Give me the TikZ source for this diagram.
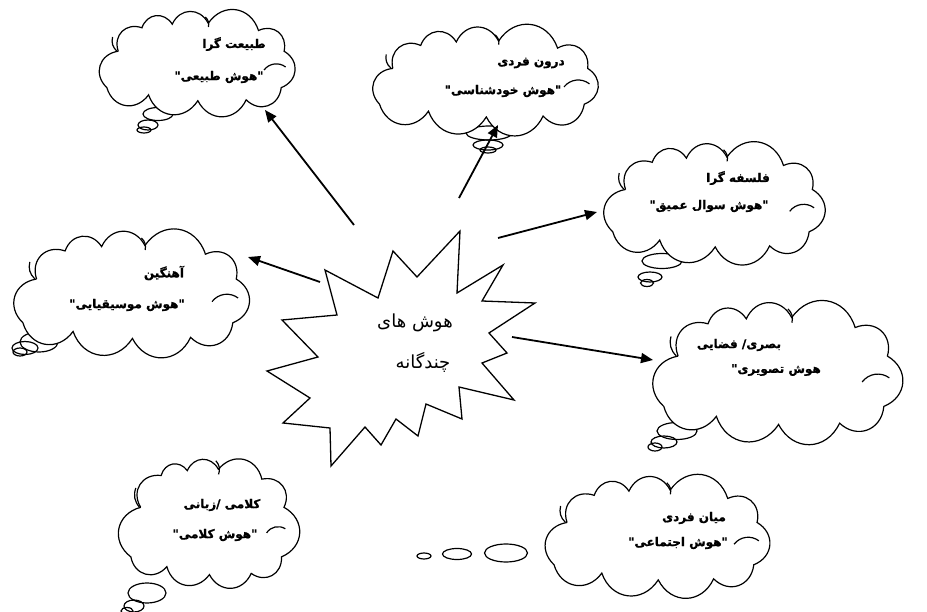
\documentclass[tikz,border=0pt]{standalone}
\usepackage{fontspec}
\TeXXeTstate=1
\newfontfamily\fa[Script=Arabic]{DejaVu Sans}
\newfontfamily\fab[Script=Arabic,FakeBold=1.2]{DejaVu Sans}
\usetikzlibrary{arrows.meta}
\tikzset{
  cloudline/.style={line width=1.2pt, draw=black, fill=white},
  bump/.style={bend left=64, looseness=1.3},
  bubble/.style={line width=1.2pt, draw=black},
  innerarc/.style={line width=1.2pt, draw=black},
  arrowline/.style={line width=1.8pt, -{Triangle[length=12pt,width=10pt]}},
  starline/.style={line width=1.3pt, draw=black, fill=white, line join=miter},
  ctext/.style={font=\fab\bfseries\fontsize{12}{14}\selectfont, inner sep=0},
  mtext/.style={font=\fa\fontsize{18}{20}\selectfont, inner sep=0},
}
\newcommand{\wcloud}[4]{%
  \begin{scope}[shift={(#1,-#2)}]
    \pgfmathsetmacro\RX{#3*0.92}\pgfmathsetmacro\RY{#4*0.90}
    \pgfmathsetmacro\Rx{#3}\pgfmathsetmacro\Ry{#4}
    \path[cloudline] ({-0.81*\RX},{0.24*\RY})
      to[bump] ({-0.56*\RX},{0.76*\RY})
      to[bump] ({-0.24*\RX},{0.84*\RY})
      to[bump] ({0.14*\RX},{0.86*\RY})
      to[bump] ({0.67*\RX},{0.70*\RY})
      to[bump] ({0.94*\RX},{0.24*\RY})
      to[bump] ({0.91*\RX},{-0.57*\RY})
      to[bump] ({0.54*\RX},{-0.84*\RY})
      to[bump] ({0.03*\RX},{-0.86*\RY})
      to[bump] ({-0.49*\RX},{-0.73*\RY})
      to[bump] ({-0.93*\RX},{-0.57*\RY})
      to[bump] ({-0.81*\RX},{0.24*\RY});
    \draw[innerarc] ({-0.80*\Rx},{0.50*\Ry}) to[bend right=30] ({-0.76*\Rx},{0.22*\Ry});
    \draw[innerarc] ({0.10*\Rx},{0.90*\Ry}) to[bend left=30] ({0.13*\Rx},{0.70*\Ry});
    \draw[innerarc] ({0.67*\Rx},{-0.16*\Ry}) to[bend left=45] ({0.88*\Rx},{-0.10*\Ry});
  \end{scope}}
\begin{document}
\begin{tikzpicture}[x=1pt,y=1pt]
\useasboundingbox (0,0) rectangle (927,-612);
\fill[white] (0,0) rectangle (927,-612);

% ---- thought bubbles (behind clouds)
\draw[bubble] (158,-114) ellipse [x radius=15pt, y radius=6.5pt];
\draw[bubble] (148,-125) ellipse [x radius=10pt, y radius=5pt];
\draw[bubble] (144,-130) ellipse [x radius=7pt, y radius=3pt];

\draw[bubble] (489,-133) ellipse [x radius=23pt, y radius=7pt];
\draw[bubble] (488,-145) ellipse [x radius=15pt, y radius=5pt];
\draw[bubble] (488,-150) ellipse [x radius=8pt, y radius=3pt];

\draw[bubble] (662,-261) ellipse [x radius=20pt, y radius=7.5pt];
\draw[bubble] (650,-277) ellipse [x radius=12pt, y radius=5pt];
\draw[bubble] (647,-283) ellipse [x radius=6.5pt, y radius=3.5pt];

\draw[bubble] (39,-342) ellipse [x radius=19pt, y radius=10pt];
\draw[bubble] (25,-348) ellipse [x radius=13pt, y radius=6.5pt];
\draw[bubble] (20,-352) ellipse [x radius=7pt, y radius=4pt];

\draw[bubble] (677,-431) ellipse [x radius=20pt, y radius=8.5pt];
\draw[bubble] (664,-442) ellipse [x radius=13pt, y radius=6pt];
\draw[bubble] (655,-447) ellipse [x radius=7pt, y radius=4pt];

\draw[bubble] (147,-593) ellipse [x radius=19pt, y radius=10pt];
\draw[bubble] (134,-606) ellipse [x radius=10pt, y radius=6pt];
\draw[bubble] (127,-611) ellipse [x radius=6pt, y radius=3.5pt];

\draw[bubble] (424,-556) ellipse [x radius=7pt, y radius=3pt];
\draw[bubble] (457,-554) ellipse [x radius=14.5pt, y radius=5.5pt];
\draw[bubble] (506,-553) ellipse [x radius=21.5pt, y radius=9pt];

% ---- clouds
\wcloud{195}{62}{103}{50}
\wcloud{483}{79}{121}{49}
\wcloud{712}{202}{116}{58}
\wcloud{129}{292}{124}{60}
\wcloud{775}{371}{130}{69}
\wcloud{207}{522}{89}{68}
\wcloud{655}{535}{118}{58}

% ---- cloud texts
\node[ctext] (t1a) at (234,-44) {\beginR طبیعت گرا\endR};
\node[ctext] (t1b) at (219,-77) {\beginR"هوش طبیعی"\endR};
\node[ctext] (t2a) at (531,-63) {\beginR درون فردی\endR};
\node[ctext] (t2b) at (503,-91) {\beginR"هوش خودشناسی"\endR};
\node[ctext] (t3a) at (738,-178) {\beginR فلسفه گرا\endR};
\node[ctext] (t3b) at (709,-206) {\beginR"هوش سوال عمیق"\endR};
\node[ctext] (t4a) at (164,-273) {\beginR آهنگین\endR};
\node[ctext] (t4b) at (127,-305) {\beginR"هوش موسیقیایی"\endR};
\node[ctext] (t5a) at (739,-345) {\beginR بصری/ فضایی\endR};
\node[ctext] (t5b) at (776,-370) {\beginR هوش تصویری"\endR};
\node[ctext] (t6a) at (222,-505) {\beginR کلامی /زبانی\endR};
\node[ctext] (t6b) at (215,-535) {\beginR"هوش کلامی"\endR};
\node[ctext] (t7a) at (694,-518) {\beginR میان فردی\endR};
\node[ctext] (t7b) at (678,-543) {\beginR"هوش اجتماعی"\endR};

% ---- central star
\path[starline] (325,-270) -- (378,-298) -- (393,-251) -- (417,-277) -- (460,-231)
  -- (457,-293) -- (503,-265) -- (482,-301) -- (535,-303) -- (489,-333)
  -- (507,-353) -- (482,-363) -- (514,-400) -- (459,-387) -- (462,-419)
  -- (426,-404) -- (418,-436) -- (396,-419) -- (381,-445) -- (365,-427)
  -- (331,-466) -- (330,-428) -- (283,-423) -- (310,-398) -- (267,-371)
  -- (318,-357) -- (282,-320) -- (337,-315) -- cycle;
\node[mtext] (m1) at (415,-323) {\beginR هوش های\endR};
\node[mtext] (m2) at (423,-362) {\beginR چندگانه\endR};

% ---- arrows
\coordinate (s1) at (354,-225); \coordinate (h1) at (265,-110);
\coordinate (s2) at (459,-198); \coordinate (h2) at (498,-125);
\coordinate (s3) at (498,-238); \coordinate (h3) at (597,-212);
\coordinate (s4) at (320,-282); \coordinate (h4) at (248,-257);
\coordinate (s5) at (512,-337); \coordinate (h5) at (653,-360);
\draw[arrowline] (s1) -- (h1);
\draw[arrowline] (s2) -- (h2);
\draw[arrowline] (s3) -- (h3);
\draw[arrowline] (s4) -- (h4);
\draw[arrowline] (s5) -- (h5);
\end{tikzpicture}
\end{document}
